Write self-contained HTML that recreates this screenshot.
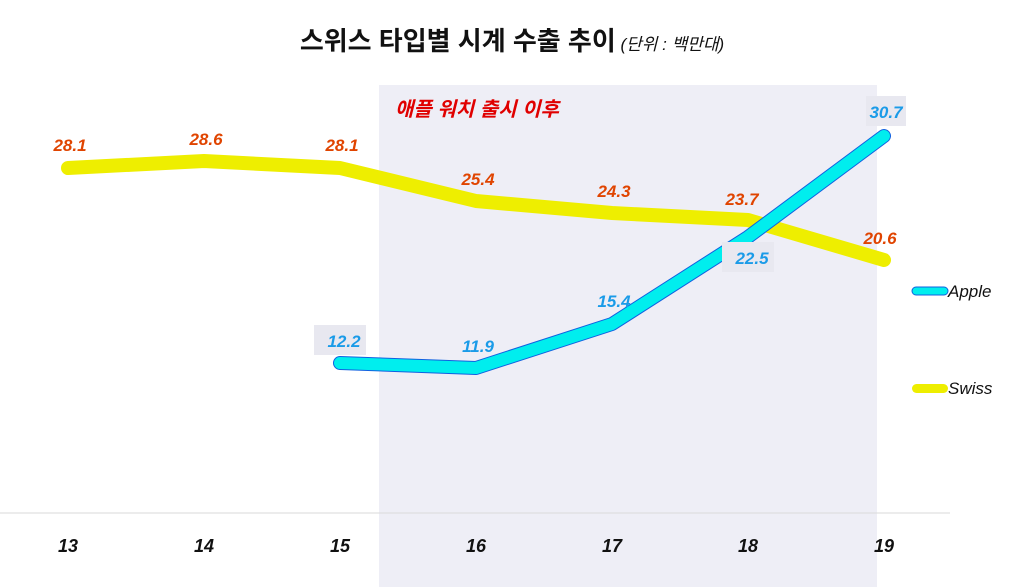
<!DOCTYPE html>
<html><head><meta charset="utf-8"><style>
html,body{margin:0;padding:0;background:#fff;}
svg{display:block;}
text{font-family:"Liberation Sans","Noto Sans CJK KR",sans-serif;}
</style></head><body>
<svg width="1024" height="587" viewBox="0 0 1024 587" xmlns="http://www.w3.org/2000/svg">
<rect x="379" y="85" width="498" height="502" fill="#eeeef6"/>
<line x1="0" y1="513" x2="950" y2="513" stroke="#d9d9d9" stroke-width="1"/>
<text x="512" y="50" text-anchor="middle" font-size="26" font-weight="bold" fill="#111">스위스 타입별 시계 수출 추이<tspan font-size="17" font-style="italic" font-weight="normal"> (단위 : 백만대)</tspan></text>
<text x="395" y="116" font-size="20" font-weight="bold" font-style="italic" fill="#e00000">애플 워치 출시 이후</text>
<polyline points="68,168 204,161 340,168 476,201 612,213 748,220 884,260" fill="none" stroke="#eeee00" stroke-width="14" stroke-linecap="round" stroke-linejoin="round"/>
<polyline points="340,363 476,368 612,324 748,237 884,136" fill="none" stroke="#1060e0" stroke-width="14" stroke-linecap="round" stroke-linejoin="round"/>
<polyline points="340,363 476,368 612,324 748,237 884,136" fill="none" stroke="#00eeee" stroke-width="12" stroke-linecap="round" stroke-linejoin="round"/>
<g fill="#e8e8f0"><rect x="314" y="325" width="52" height="30"/><rect x="866" y="96" width="40" height="30"/><rect x="722" y="242" width="52" height="30"/></g>
<g font-size="17" font-weight="bold" font-style="italic" fill="#e04400" text-anchor="middle">
<text x="70" y="151">28.1</text><text x="206" y="145">28.6</text><text x="342" y="151">28.1</text>
<text x="478" y="185">25.4</text><text x="614" y="197">24.3</text><text x="742" y="205">23.7</text><text x="880" y="244">20.6</text>
</g>
<g font-size="17" font-weight="bold" font-style="italic" fill="#1a9be8" text-anchor="middle">
<text x="344" y="347">12.2</text><text x="478" y="352">11.9</text><text x="614" y="307">15.4</text><text x="752" y="264">22.5</text><text x="886" y="118">30.7</text>
</g>
<rect x="912" y="287" width="36" height="8" rx="4" fill="#00eeee" stroke="#1060e0" stroke-width="1"/>
<text x="948" y="297" font-size="17" font-style="italic" fill="#111">Apple</text>
<rect x="912" y="384" width="36" height="9" rx="4.5" fill="#eeee00"/>
<text x="948" y="394" font-size="17" font-style="italic" fill="#111">Swiss</text>
<g font-size="18" font-weight="bold" font-style="italic" fill="#111" text-anchor="middle">
<text x="68" y="552">13</text><text x="204" y="552">14</text><text x="340" y="552">15</text><text x="476" y="552">16</text><text x="612" y="552">17</text><text x="748" y="552">18</text><text x="884" y="552">19</text>
</g>
</svg>
</body></html>
